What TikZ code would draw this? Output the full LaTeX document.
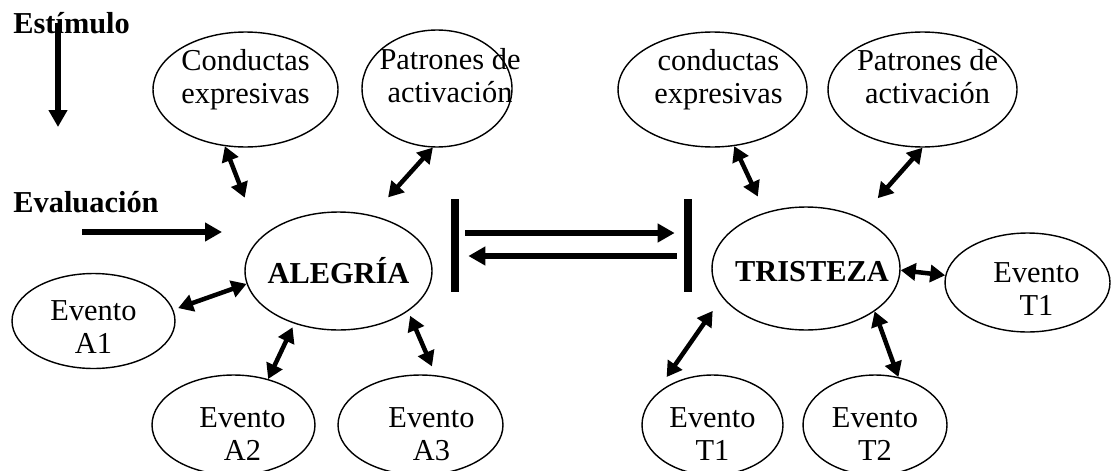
\documentclass[tikz,border=0pt]{standalone}
\usepackage{fontspec}
\setmainfont{Liberation Serif}
\usetikzlibrary{shapes.geometric,arrows.meta}
\begin{document}
\begin{tikzpicture}[x=0.02cm, y=-0.02cm, font=\fontsize{17.3}{18.8}\selectfont]
        \tikzstyle{ell}=[ellipse, draw, line width=0.8pt, inner sep=0pt]
        \tikzstyle{txt}=[align=center]
        \tikzstyle{dbl}=[{Triangle[length=0.3cm,width=0.34cm]}-{Triangle[length=0.3cm,width=0.34cm]}, line width=0.09cm]
        \tikzstyle{arr}=[-{Triangle[length=0.34cm,width=0.36cm]}, line width=0.12cm]
        \tikzstyle{bar}=[rectangle, fill=black, inner sep=0pt, minimum width=0.16cm, minimum height=1.88cm]

        \useasboundingbox (0,0) rectangle (1111,470);
        \clip (0,0) rectangle (1111,470);

        \node[anchor=base west, inner sep=0pt] (estimulo) at (13,33) {\textbf{Estímulo}};
        \node[anchor=base west, inner sep=0pt] (evaluacion) at (13,212) {\textbf{Evaluación}};
        \coordinate (estEnd) at (58,127);
        \coordinate (evalStart) at (82,232);
        \coordinate (evalEnd) at (222,232);

        \node[ell, minimum width=3.7cm, minimum height=2.3cm, label={[txt, yshift=0.2cm]center:Conductas\\expresivas}] (conL) at (245.5,89.5) {};
        \node[ell, minimum width=3.0cm, minimum height=2.34cm, label={[txt, xshift=0.26cm, yshift=0.25cm]center:Patrones de\\activación}] (patL) at (437,88.5) {};
        \node[ell, minimum width=3.74cm, minimum height=2.36cm, label={center:\textbf{ALEGRÍA}}] (alegria) at (338.5,271) {};
        \node[ell, minimum width=3.26cm, minimum height=1.9cm, label={[txt, yshift=-0.13cm]center:Evento\\A1}] (evA1) at (93.5,321) {};
        \node[ell, minimum width=3.26cm, minimum height=2.0cm, label={[txt, xshift=0.18cm, yshift=-0.19cm]center:Evento\\A2}] (evA2) at (233.5,425) {};
        \node[ell, minimum width=3.3cm, minimum height=2.0cm, label={[txt, xshift=0.22cm, yshift=-0.19cm]center:Evento\\A3}] (evA3) at (420.5,425) {};

        \node[ell, minimum width=3.78cm, minimum height=2.3cm, label={[txt, xshift=0.12cm, yshift=0.2cm]center:conductas\\expresivas}] (conR) at (712.5,89.5) {};
        \node[ell, minimum width=3.78cm, minimum height=2.3cm, label={[txt, xshift=0.1cm, yshift=0.26cm]center:Patrones de\\activación}] (patR) at (922.5,89.5) {};
        \node[ell, minimum width=3.76cm, minimum height=2.46cm, label={[xshift=0.12cm, yshift=-0.07cm]center:\textbf{TRISTEZA}}] (tristeza) at (806,268.5) {};
        \node[ell, minimum width=3.3cm, minimum height=1.98cm, label={[txt, xshift=0.18cm, yshift=-0.14cm]center:Evento\\T1}] (evT1r) at (1027.5,282.5) {};
        \node[ell, minimum width=2.82cm, minimum height=2.0cm, label={[txt, yshift=-0.19cm]center:Evento\\T1}] (evT1b) at (712.5,425) {};
        \node[ell, minimum width=2.88cm, minimum height=2.0cm, label={[txt, yshift=-0.19cm]center:Evento\\T2}] (evT2) at (875,425) {};

        \node[bar] (barL) at (455,245.5) {};
        \node[bar] (barR) at (688,245.5) {};

        \draw[arr] (estEnd |- estimulo.center) -- (estEnd);
        \draw[arr] (evalStart) -- (evalEnd);
        \draw[arr, shorten <=0.12cm, shorten >=0.18cm] ([yshift=0.25cm]barL.east) -- ([yshift=0.25cm]barR.west);
        \draw[arr, shorten <=0.14cm, shorten >=0.18cm] ([yshift=-0.21cm]barR.west) -- ([yshift=-0.21cm]barL.east);

        \draw[dbl, shorten >=0.86cm] (conL.-110) -- (alegria.157);
        \draw[dbl, shorten >=0.48cm] (patL.-94) -- (alegria.59);
        \draw[dbl, shorten <=0.1cm] (evA1.8) -- (alegria.188);
        \draw[dbl, shorten >=0.08cm] (evA2.53) -- (alegria.-130);
        \draw[dbl, shorten <=0.19cm, shorten >=0.1cm] (evA3.73) -- (alegria.-30);

        \draw[dbl, shorten >=0.35cm] (conR.-69) -- (tristeza.126);
        \draw[dbl, shorten >=0.52cm] (patR.-90) -- (tristeza.43.5);
        \draw[dbl] (tristeza.-1) -- (evT1r.175);
        \draw[dbl, shorten <=0.33cm, shorten >=0.56cm] (tristeza.-161) -- (evT1b.158);
        \draw[dbl] (tristeza.-32) -- (evT2.64);
    \end{tikzpicture}
\end{document}
